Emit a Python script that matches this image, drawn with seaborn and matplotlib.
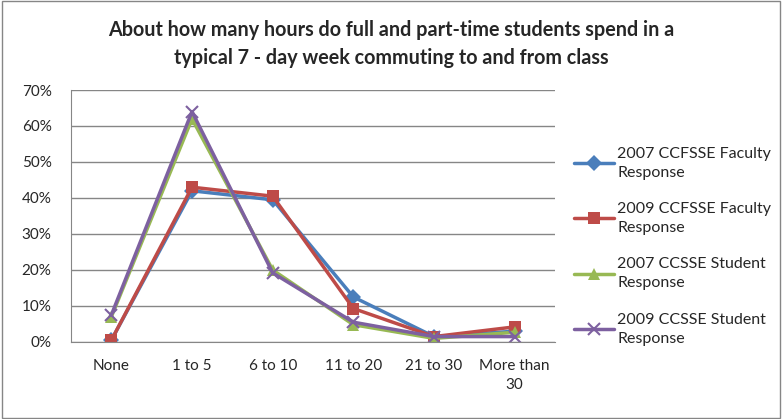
import pandas as pd
import matplotlib.pyplot as plt
import seaborn as sns

categories = ['None', '1 to 5', '6 to 10', '11 to 20', '21 to 30', 'More than\n30']
fac_2007 = [0.5, 42.0, 39.5, 12.5, 1.5, 3.0]
fac_2009 = [0.5, 43.0, 40.5, 9.3, 1.5, 4.2]
stu_2007 = [7.0, 62.0, 20.0, 4.8, 1.0, 2.7]
stu_2009 = [7.5, 64.0, 19.2, 5.5, 1.5, 1.5]
series = ['2007 CCFSSE Faculty\nResponse', '2009 CCFSSE Faculty\nResponse',
          '2007 CCSSE Student\nResponse', '2009 CCSSE Student\nResponse']
colors = ['#4a7ebb', '#be4b48', '#98b954', '#7d60a0']
markers = ['D', 's', '^', 'x']

rows = []
for name, vals in zip(series, [fac_2007, fac_2009, stu_2007, stu_2009]):
    for i, v in enumerate(vals):
        rows.append({'cat': i, 'pct': v, 'series': name})
df = pd.DataFrame(rows)

sns.set_style('white')
plt.rcParams['font.family'] = ['Lato', 'DejaVu Sans']

fig = plt.figure(figsize=(7.82, 4.19), dpi=100)
ax = fig.add_axes([0.0908, 0.1838, 0.619, 0.6014])

for name, c, m in zip(series, colors, markers):
    sub = df[df['series'] == name]
    sns.lineplot(data=sub, x='cat', y='pct', color=c, marker=m, linewidth=2.5,
                 markersize=8 if m != 'x' else 9, markeredgewidth=1.5 if m == 'x' else 0,
                 markeredgecolor=c, label=name, ax=ax)

ax.set_xlim(-0.5, 5.5)
ax.set_ylim(0, 70)
ax.set_yticks(range(0, 71, 10))
ax.set_yticklabels([f'{v}%' for v in range(0, 71, 10)], fontsize=11)
ax.set_xticks(range(len(categories)))
ax.set_xticklabels(categories, fontsize=11, va='top', linespacing=1.5)
ax.set_xlabel('')
ax.set_ylabel('')
ax.yaxis.grid(True, color='#868686', linewidth=1)
ax.set_axisbelow(True)
for s in ['top', 'right']:
    ax.spines[s].set_visible(False)
ax.spines['left'].set_color('#868686')
ax.spines['bottom'].set_color('#868686')
ax.tick_params(axis='x', length=0, pad=12)
ax.tick_params(axis='y', length=0, pad=14)

leg = ax.legend(loc='center left', bbox_to_anchor=(1.01, 0.38), frameon=False,
                fontsize=11.5, handlelength=2.5, labelspacing=1.4, handletextpad=0.2)
for t in leg.get_texts():
    t.set_linespacing(1.45)

fig.text(0.5, 0.895, 'About how many hours do full and part-time students spend in a\n'
         'typical 7 - day week commuting to and from class',
         ha='center', va='center', fontsize=14.2, fontweight='bold', linespacing=1.45)

fig.patches.append(plt.Rectangle((0.002, 0.002), 0.996, 0.996, transform=fig.transFigure,
                                 fill=False, edgecolor='#868686', linewidth=1))

fig.savefig('out.png', dpi=100)
